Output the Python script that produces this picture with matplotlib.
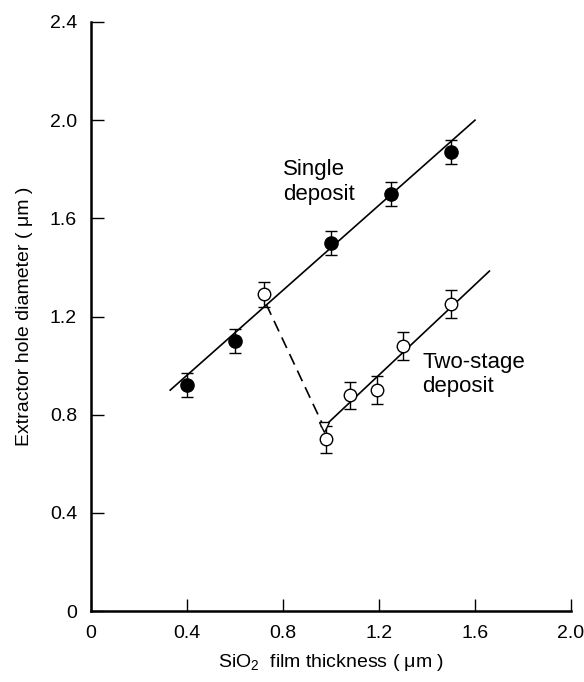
import numpy as np
import matplotlib
matplotlib.use('Agg')
import matplotlib.pyplot as plt

plt.rcParams['font.family'] = ['Liberation Sans', 'DejaVu Sans']
plt.rcParams['mathtext.fontset'] = 'custom'
plt.rcParams['mathtext.rm'] = 'Liberation Sans'
plt.rcParams['mathtext.it'] = 'Liberation Sans:italic'

# ---- dados ----
single_x = [0.40, 0.60, 1.00, 1.25, 1.50]
single_y = [0.92, 1.10, 1.50, 1.70, 1.87]
single_err = [0.05, 0.05, 0.05, 0.05, 0.05]

two_x = [0.72, 0.98, 1.08, 1.19, 1.30, 1.50]
two_y = [1.29, 0.70, 0.88, 0.90, 1.08, 1.25]
two_err = [0.05, 0.055, 0.055, 0.058, 0.058, 0.057]

# retas ajustadas e ligação tracejada
single_fit_x = [0.33, 1.60]
single_fit_y = [0.90, 2.00]
two_fit_x = [0.97, 1.66]
two_fit_y = [0.75, 1.385]
link_x = [0.73, 0.97]
link_y = [1.25, 0.75]

xticks = [0, 0.4, 0.8, 1.2, 1.6, 2.0]
xtick_labels = ['0', '0.4', '0.8', '1.2', '1.6', '2.0']
yticks = [0, 0.4, 0.8, 1.2, 1.6, 2.0, 2.4]
ytick_labels = ['0', '0.4', '0.8', '1.2', '1.6', '2.0', '2.4']

fig = plt.figure(figsize=(5.84, 6.82), dpi=100)
fig.subplots_adjust(left=91 / 584, right=571 / 584,
                    bottom=1 - 611 / 682, top=1 - 22 / 682)
ax = fig.add_subplot(111)

# retas
ax.plot(single_fit_x, single_fit_y, color='black', lw=1.2, zorder=2)
ax.plot(two_fit_x, two_fit_y, color='black', lw=1.2, zorder=2)
ax.plot(link_x, link_y, color='black', lw=1.2, ls=(0, (7, 4)), zorder=2)
ax.plot([link_x[1]], [link_y[1]], marker='v', ms=7, mfc='white',
        mec='black', mew=1.0, ls='none', zorder=4)

# pontos com barras de erro
ax.errorbar(single_x, single_y, yerr=single_err, fmt='o', ms=9.5,
            mfc='black', mec='black', ecolor='black', elinewidth=1.0,
            capsize=4, capthick=1.0, zorder=3)
ax.errorbar(two_x, two_y, yerr=two_err, fmt='o', ms=9,
            mfc='white', mec='black', mew=1.0, ecolor='black',
            elinewidth=1.0, capsize=4, capthick=1.0, zorder=3)

# rótulos das séries
ax.text(0.80, 1.84, 'Single\ndeposit', ha='left', va='top',
        fontsize=16, linespacing=1.2)
ax.text(1.38, 1.055, 'Two-stage\ndeposit', ha='left', va='top',
        fontsize=16, linespacing=1.2)

ax.set_xlim(0, 2.0)
ax.set_ylim(0, 2.4)
ax.set_xticks(xticks)
ax.set_xticklabels(xtick_labels)
ax.set_yticks(yticks)
ax.set_yticklabels(ytick_labels)

for s in ['top', 'right']:
    ax.spines[s].set_visible(False)
for s in ['left', 'bottom']:
    ax.spines[s].set_linewidth(1.8)

ax.tick_params(direction='in', length=9, width=1.0, labelsize=14)
ax.tick_params(axis='y', pad=10)
ax.tick_params(axis='x', pad=10)

ax.set_xlabel('SiO$_2$  film thickness ( μm )', fontsize=14, labelpad=7)
ax.set_ylabel('Extractor hole diameter ( μm )', fontsize=14, labelpad=12)

fig.savefig('out.png', dpi=100)
